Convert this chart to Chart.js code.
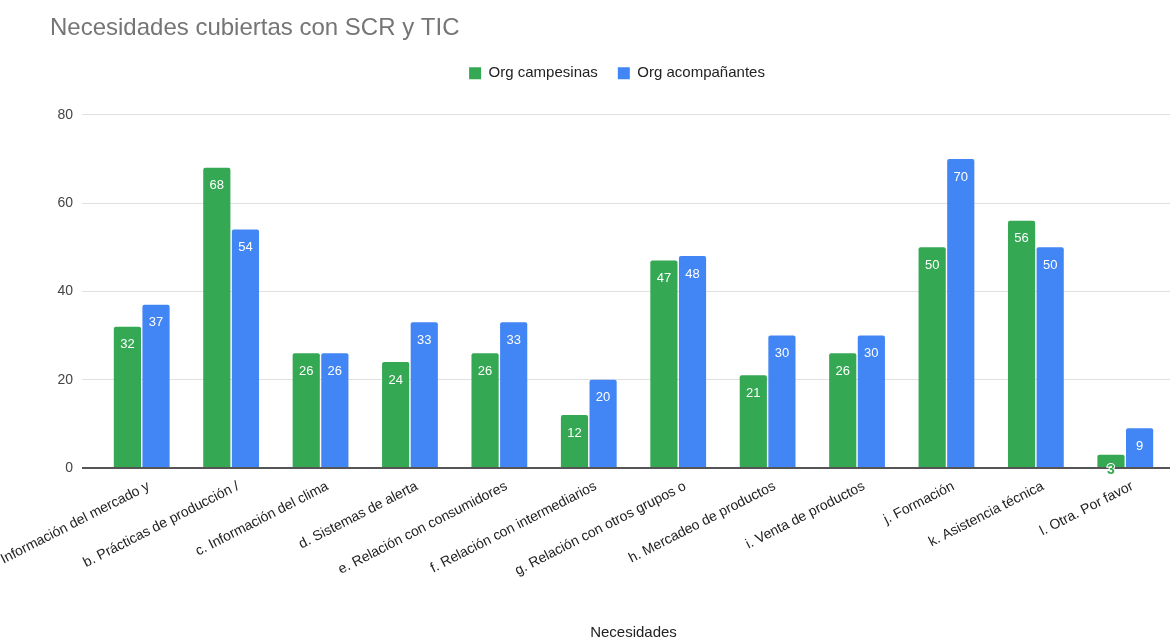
<!DOCTYPE html>
<html>
<head>
<meta charset="utf-8">
<script src="https://cdn.jsdelivr.net/npm/chart.js@4/dist/chart.umd.min.js"></script>
<style>
  html, body { margin: 0; padding: 0; background: #fff; overflow: hidden; }
  #wrap { width: 1171px; height: 638px; position: relative; }
</style>
</head>
<body>
<div id="wrap"><canvas id="chart"></canvas></div>
<script>
// values
var categories = [
    'a. Información del mercado y',
    'b. Prácticas de producción /',
    'c. Información del clima',
    'd. Sistemas de alerta',
    'e. Relación con consumidores',
    'f. Relación con intermediarios',
    'g. Relación con otros grupos o',
    'h. Mercadeo de productos',
    'i. Venta de productos',
    'j. Formación',
    'k. Asistencia técnica',
    'l. Otra. Por favor'
];
var campesinas = [32, 68, 26, 24, 26, 12, 47, 21, 26, 50, 56, 3];
var acompanantes = [37, 54, 26, 33, 33, 20, 48, 30, 30, 70, 50, 9];
var yTicks = [0, 20, 40, 60, 80];

var FONT = 'Arial, "Liberation Sans", sans-serif';

// value labels at the top of each bar
var barLabels = {
    id: 'barLabels',
    afterDatasetsDraw: function (chart) {
        var ctx = chart.ctx;
        ctx.save();
        ctx.textAlign = 'center';
        ctx.textBaseline = 'middle';
        chart.data.datasets.forEach(function (ds, i) {
            chart.getDatasetMeta(i).data.forEach(function (bar, j) {
                var v = ds.data[j];
                var h = bar.base - bar.y;
                if (h > 24) {
                    ctx.font = '13px ' + FONT;
                    ctx.fillStyle = '#ffffff';
                    ctx.fillText(v, bar.x, bar.y + 18);
                } else {
                    // short bar: label sits on the baseline in the bar colour
                    ctx.font = 'bold 14px ' + FONT;
                    ctx.lineWidth = 2;
                    ctx.strokeStyle = '#ffffff';
                    ctx.strokeText(v, bar.x, bar.base + 3);
                    ctx.fillStyle = ds.backgroundColor;
                    ctx.fillText(v, bar.x, bar.base + 3);
                }
            });
        });
        ctx.restore();
    }
};

// move title and legend the way the original sits
var shiftBoxes = {
    id: 'shiftBoxes',
    afterLayout: function (chart) {
        chart.titleBlock.left += 50;
        chart.legend.left += 32;
        chart.legend.right += 32;
        chart.legend.top -= 24;
    }
};

var ctx = document.getElementById('chart').getContext('2d');
new Chart(ctx, {
    type: 'bar',
    data: {
        labels: categories,
        datasets: [{
            label: 'Org campesinas',
            data: campesinas,
            backgroundColor: '#34a853',
            borderRadius: 2,
            borderSkipped: 'bottom'
        }, {
            label: 'Org acompañantes',
            data: acompanantes,
            backgroundColor: '#4285f4',
            borderRadius: 2,
            borderSkipped: 'bottom'
        }]
    },
    options: {
        responsive: true,
        maintainAspectRatio: false,
        animation: false,
        layout: { padding: { top: 14, right: 1, left: 0, bottom: 0 } },
        datasets: { bar: { categoryPercentage: 0.64, barPercentage: 0.95 } },
        plugins: {
            title: {
                display: true,
                text: 'Necesidades cubiertas con SCR y TIC',
                align: 'start',
                color: '#757575',
                font: { family: FONT, size: 24, weight: 'normal' },
                padding: { top: 0, bottom: 27 }
            },
            legend: {
                position: 'top',
                labels: {
                    color: '#222222',
                    font: { family: FONT, size: 15 },
                    boxWidth: 12,
                    boxHeight: 12,
                    padding: 20
                }
            },
            tooltip: { enabled: false }
        },
        scales: {
            x: {
                grid: { display: false },
                border: { display: false },
                ticks: {
                    color: '#222222',
                    font: { family: FONT, size: 14 },
                    minRotation: 27,
                    maxRotation: 27,
                    autoSkip: false,
                    labelOffset: 7,
                    padding: 2
                },
                title: {
                    display: true,
                    text: 'Necesidades',
                    color: '#222222',
                    font: { family: FONT, size: 15 },
                    padding: { top: 0, bottom: -4 }
                },
                afterFit: function (scale) {
                    scale.paddingLeft = 0;
                    scale.paddingRight = 0;
                    scale.height = 170;
                }
            },
            y: {
                min: 0,
                max: 80,
                afterBuildTicks: function (scale) {
                    scale.ticks = yTicks.map(function (v) { return { value: v }; });
                },
                grid: {
                    color: function (c) { return c.tick && c.tick.value === 0 ? '#555555' : '#e0e0e0'; },
                    lineWidth: function (c) { return c.tick && c.tick.value === 0 ? 2 : 1; },
                    tickLength: 15
                },
                border: { display: false },
                ticks: {
                    color: '#444444',
                    font: { family: FONT, size: 14 },
                    padding: 9
                },
                afterFit: function (scale) {
                    scale.width = 97;
                }
            }
        }
    },
    plugins: [barLabels, shiftBoxes]
});
</script>
</body>
</html>
